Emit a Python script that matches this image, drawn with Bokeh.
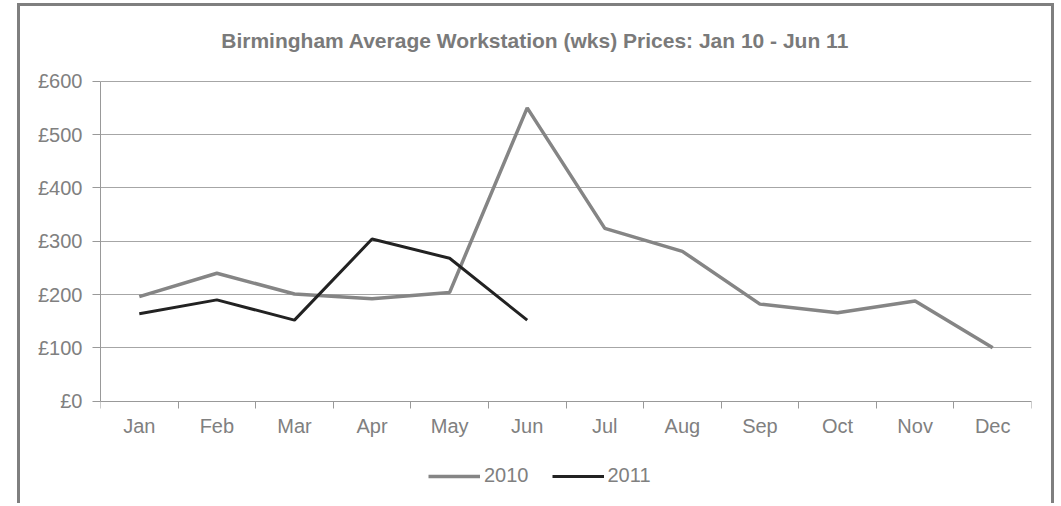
from bokeh.plotting import figure
from bokeh.models import (Range1d, FixedTicker, PrintfTickFormatter, Legend, LegendItem,
                          ColumnDataSource, Label)
from bokeh.embed import file_html
from bokeh.resources import INLINE

title_text = "Birmingham  Average Workstation (wks) Prices: Jan 10 - Jun 11"
months = ["Jan", "Feb", "Mar", "Apr", "May", "Jun", "Jul", "Aug", "Sep", "Oct", "Nov", "Dec"]
prices_2010 = [196, 240, 201, 192, 204, 550, 324, 281, 182, 166, 188, 100]
prices_2011 = [164, 190, 152, 304, 268, 152]
y_ticks = [0, 100, 200, 300, 400, 500, 600]

FONT = "Liberation Sans"
TEXT = "#808080"
AXIS = "#999999"

centers = [i + 0.5 for i in range(len(months))]
boundaries = list(range(len(months) + 1))

src10 = ColumnDataSource(dict(x=centers[:len(prices_2010)], y=prices_2010))
src11 = ColumnDataSource(dict(x=centers[:len(prices_2011)], y=prices_2011))

# frame covers the whole canvas height so the title and legend are not clipped;
# the value axis itself only spans 0..600 (320 px)
px_per_unit = 320 / 600
y_lo = -105.3 / px_per_unit
y_hi = y_ticks[-1] + 74.7 / px_per_unit

p = figure(width=1037, height=500, output_backend="svg", toolbar_location=None,
           x_range=Range1d(0, len(months)), y_range=Range1d(y_lo, y_hi),
           min_border_left=80, min_border_right=26, min_border_top=0, min_border_bottom=0)

p.styles = {"margin-left": "17px", "margin-top": "3px",
            "border-left": "3px solid #7f7f7f", "border-top": "3px solid #7f7f7f",
            "border-right": "3px solid #7f7f7f"}

p.outline_line_color = None
p.background_fill_color = "white"
p.border_fill_color = "white"

p.xgrid.visible = False
p.ygrid.ticker = FixedTicker(ticks=y_ticks)
p.ygrid.grid_line_color = "#a6a6a6"
p.ygrid.grid_line_width = 1

# y axis
p.yaxis.ticker = FixedTicker(ticks=y_ticks)
p.yaxis.bounds = (y_ticks[0], y_ticks[-1])
p.yaxis.formatter = PrintfTickFormatter(format="£%d")
p.yaxis.axis_line_color = AXIS
p.yaxis.major_tick_line_color = AXIS
p.yaxis.major_tick_out = 8
p.yaxis.major_tick_in = 0
p.yaxis.minor_tick_line_color = None
p.yaxis.major_label_text_font = FONT
p.yaxis.major_label_text_font_size = "20px"
p.yaxis.major_label_text_color = TEXT
p.yaxis.major_label_standoff = 10

# x axis, fixed at value 0
p.xaxis.fixed_location = 0
p.xaxis.ticker = FixedTicker(ticks=centers, minor_ticks=boundaries)
p.xaxis.major_label_overrides = {c: m for c, m in zip(centers, months)}
p.xaxis.axis_line_color = AXIS
p.xaxis.major_tick_line_color = None
p.xaxis.major_tick_out = 0
p.xaxis.major_tick_in = 0
p.xaxis.minor_tick_line_color = AXIS
p.xaxis.minor_tick_out = 7
p.xaxis.minor_tick_in = 0
p.xaxis.major_label_text_font = FONT
p.xaxis.major_label_text_font_size = "20px"
p.xaxis.major_label_text_color = TEXT
p.xaxis.major_label_standoff = 7

r10 = p.line("x", "y", source=src10, line_color="#858585", line_width=3.5)
r11 = p.line("x", "y", source=src11, line_color="#222222", line_width=3)

title = Label(x=5.64, y=y_ticks[-1] + 40.7 / px_per_unit, text=title_text,
              text_font=FONT, text_font_size="21px", text_font_style="bold",
              text_color="#7a7a7a", text_align="center", text_baseline="middle")
p.add_layout(title)

legend = Legend(items=[LegendItem(label="2010", renderers=[r10]),
                       LegendItem(label="2011", renderers=[r11])],
                orientation="horizontal", location=(328, 19))
legend.label_text_font = FONT
legend.label_text_font_size = "20px"
legend.label_text_color = TEXT
legend.glyph_width = 52
legend.glyph_height = 22
legend.label_height = 22
legend.label_standoff = 4
legend.spacing = 23
legend.padding = 0
legend.margin = 0
legend.border_line_color = None
legend.background_fill_alpha = 0
p.add_layout(legend)

open("out.html", "w").write(file_html(p, INLINE))
